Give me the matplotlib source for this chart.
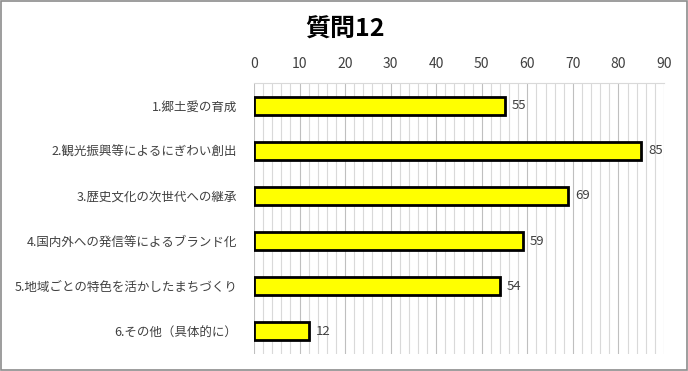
import matplotlib.pyplot as plt
import numpy as np

plt.rcParams['font.family'] = ['Noto Sans CJK JP', 'DejaVu Sans']

categories = [
    "1.郷土愛の育成",
    "2.観光振興等によるにぎわい創出",
    "3.歴史文化の次世代への継承",
    "4.国内外への発信等によるブランド化",
    "5.地域ごとの特色を活かしたまちづくり",
    "6.その他（具体的に）",
]
values = [55, 85, 69, 59, 54, 12]
x_ticks = list(range(0, 100, 10))

fig = plt.figure(figsize=(6.88, 3.71), dpi=100)
ax = fig.add_axes([254 / 688, 1 - 354 / 371, 410 / 688, 271 / 371])

y = np.arange(len(categories))
ax.barh(y, values, height=0.4, color="#ffff00", edgecolor="black", linewidth=2, zorder=3)

for yi, v in zip(y, values):
    ax.text(v + 1.5, yi, str(v), va="center", ha="left", fontsize=9.5, color="#404040")

ax.set_xlim(0, 90)
ax.set_ylim(len(categories) - 0.5, -0.5)
ax.set_yticks(y)
ax.set_yticklabels(categories, fontsize=9, color="#404040")
ax.set_xticks(x_ticks)
ax.set_xticks(np.arange(0, 91, 2), minor=True)
ax.xaxis.tick_top()
ax.tick_params(axis="x", which="both", length=0, labelsize=10, labelcolor="#404040", pad=9)
ax.tick_params(axis="y", length=0, pad=12)

ax.grid(axis="x", which="minor", color="#d9d9d9", linewidth=0.8, zorder=0)
ax.grid(axis="x", which="major", color="#bfbfbf", linewidth=0.8, zorder=0)
for s in ["left", "right", "bottom"]:
    ax.spines[s].set_visible(False)
ax.spines["top"].set_color("#d9d9d9")

fig.text(345 / 688, 1 - 30 / 371, "質問12", ha="center", va="center", fontsize=18, fontweight="bold")

border = plt.Rectangle((0.002, 0.003), 0.996, 0.994, transform=fig.transFigure,
                       fill=False, edgecolor="#8c8c8c", linewidth=1.2)
fig.patches.append(border)

fig.savefig("out.png", dpi=100)
